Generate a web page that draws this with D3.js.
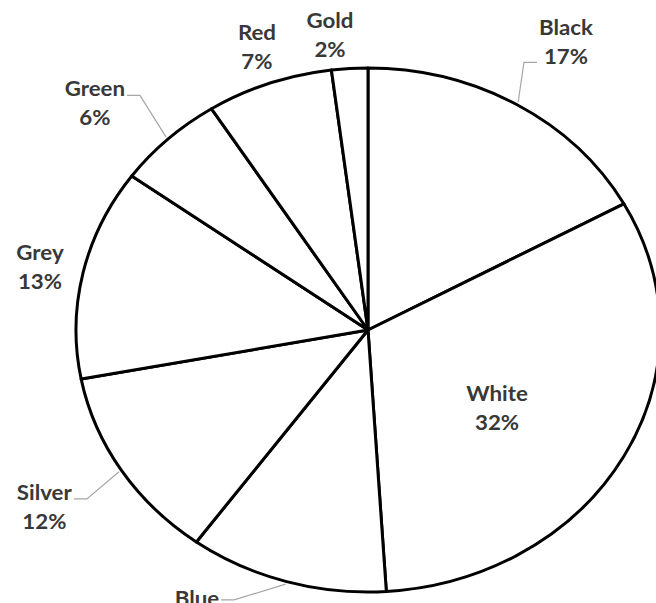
<!DOCTYPE html>
<html lang="en">
<head>
    <meta charset="UTF-8" />
    <title>Car colours</title>
    <style>
        html, body { margin: 0; padding: 0; background: #fff; }
        #viz { width: 656px; height: 603px; overflow: hidden; }
        .lbl { font-family: Lato, "Open Sans", sans-serif; font-weight: 700; font-size: 20px; fill: #383838; }
    </style>
</head>
<body>
    <div id="viz"></div>
    <script src="https://d3js.org/d3.v7.min.js"></script>
    <script>
        // --- Data ---
        const categories = ["Black", "White", "Blue", "Silver", "Grey", "Green", "Red", "Gold"];
        const shares = [17, 32, 11, 12, 13, 6, 7, 2];

        // label placement: radius factor, angle nudge (deg), leader attach offset
        const labelLayout = {
            Black:  { k: 1.29,  da: 1.1,  leader: 20 },
            White:  { k: 0.533, da: 5.2 },
            Blue:   { k: 1.232, da: 12.2, leader: -14 },
            Silver: { k: 1.30,  da: 0.9,  leader: -9 },
            Grey:   { k: 1.148, da: -0.7 },
            Green:  { k: 1.273, da: -4.1, leader: -8.5 },
            Red:    { k: 1.145, da: 0.4 },
            Gold:   { k: 1.132, da: -3.0 }
        };

        const width = 656, height = 603;
        const cx = 368, cy = 330, rx = 292, ry = 262;
        const stretch = rx / ry; // picture is stretched sideways

        const svg = d3.select("#viz").append("svg")
            .attr("width", width)
            .attr("height", height);

        const pie = d3.pie().sort(null).value(d => d.value);
        const arcs = pie(categories.map((c, i) => ({ name: c, value: shares[i] })));
        const arc = d3.arc().innerRadius(0).outerRadius(ry);

        const pieGroup = svg.append("g")
            .attr("transform", `translate(${cx},${cy}) scale(${stretch},1)`);

        pieGroup.selectAll("path")
            .data(arcs)
            .enter()
            .append("path")
            .attr("d", arc)
            .attr("fill", "#fff")
            .attr("stroke", "#000")
            .attr("stroke-width", 3)
            .attr("stroke-linejoin", "round")
            .attr("vector-effect", "non-scaling-stroke");

        function pt(a, k) {
            return [cx + k * rx * Math.sin(a), cy - k * ry * Math.cos(a)];
        }

        const leaderGroup = svg.append("g");
        const labelGroup = svg.append("g");

        arcs.forEach(d => {
            const lay = labelLayout[d.data.name];
            const mid = (d.startAngle + d.endAngle) / 2;
            const [lx, ly] = pt(mid + lay.da * Math.PI / 180, lay.k);

            const g = labelGroup.append("g");
            [[d.data.name, ly - 7.5], [Math.round(d.data.value) + "%", ly + 21.5]].forEach(([t, y]) => {
                g.append("text")
                    .attr("class", "lbl")
                    .attr("transform", `translate(${lx},${y}) scale(${stretch},1)`)
                    .attr("text-anchor", "middle")
                    .text(t);
            });

            if (lay.leader !== undefined) {
                const box = g.node().getBBox();
                const start = pt(mid, 1.01);
                const right = start[0] > lx;
                const endX = right ? box.x + box.width + 2 : box.x - 2;
                const yy = ly + lay.leader;
                const elbowX = right ? endX + 13 : endX - 13;
                leaderGroup.append("polyline")
                    .attr("points", [start, [elbowX, yy], [endX, yy]].map(p => p.join(",")).join(" "))
                    .attr("fill", "none")
                    .attr("stroke", "#a6a6a6")
                    .attr("stroke-width", 1.2);
            }
        });
    </script>
</body>
</html>
